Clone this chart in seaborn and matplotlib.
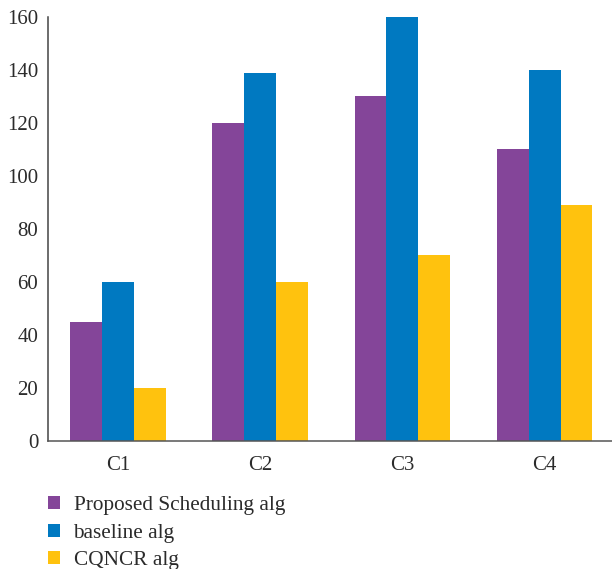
import matplotlib
matplotlib.use("Agg")
import matplotlib.pyplot as plt
import matplotlib.patches as mpatches
import pandas as pd
import seaborn as sns

categories = ["C1", "C2", "C3", "C4"]
proposed = [45, 120, 130, 110]
baseline = [60, 139, 160, 140]
cqncr = [20, 60, 70, 89]
series_names = ["Proposed Scheduling alg", "baseline alg", "CQNCR alg"]
colors = ["#844599", "#0079C1", "#FFC20E"]
y_ticks = [0, 20, 40, 60, 80, 100, 120, 140, 160]

df = pd.DataFrame({
    "category": categories * 3,
    "value": proposed + baseline + cqncr,
    "series": [series_names[0]] * 4 + [series_names[1]] * 4 + [series_names[2]] * 4,
})

sns.set_style("white")
plt.rcParams["font.family"] = ["Liberation Serif", "DejaVu Serif"]
text_color = "#2b2b2b"

fig = plt.figure(figsize=(6.12, 5.69), dpi=100)
ax = fig.add_axes([48 / 612, 1 - 440.7 / 569, 564 / 612, (440.7 - 17) / 569])

sns.barplot(data=df, x="category", y="value", hue="series", order=categories,
            hue_order=series_names, palette=colors, width=0.675, saturation=1,
            linewidth=0, ax=ax, legend=False)

ax.set_xlim(-0.495, 3.475)
ax.set_ylim(0, 160)
ax.set_yticks(y_ticks)
ax.set_xlabel("")
ax.set_ylabel("")
ax.tick_params(axis="both", length=0, labelsize=15, colors=text_color)
ax.tick_params(axis="y", pad=7)
ax.tick_params(axis="x", pad=11)
for lab in ax.get_xticklabels() + ax.get_yticklabels():
    lab.set_color(text_color)

for side in ["top", "right"]:
    ax.spines[side].set_visible(False)
ax.spines["left"].set_color("#444444")
ax.spines["bottom"].set_color("#555555")
ax.spines["left"].set_linewidth(1.1)
ax.spines["bottom"].set_linewidth(1.1)

handles = [mpatches.Patch(facecolor=c, edgecolor="none", label=n)
           for c, n in zip(colors, series_names)]
fig.legend(handles=handles, loc="upper left", bbox_to_anchor=(48 / 612, 1 - 496 / 569),
           frameon=False, fontsize=15.3, handlelength=0.58, handleheight=0.58,
           handletextpad=0.62, labelspacing=0.4, labelcolor=text_color,
           borderaxespad=0, borderpad=0)

fig.savefig("out.png", dpi=100)
